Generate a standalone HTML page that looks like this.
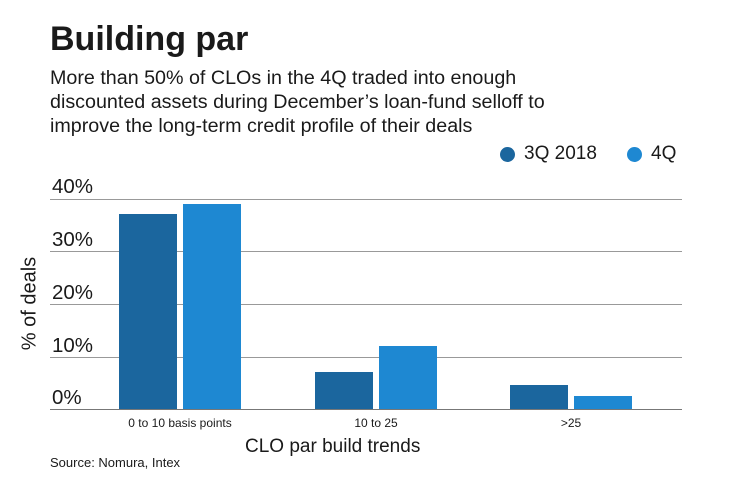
<!DOCTYPE html><html><head><style>
body{margin:0;width:740px;height:482px;background:#fff;font-family:"Liberation Sans",sans-serif;color:#1a1a1a;position:relative;overflow:hidden}
div{position:absolute;white-space:nowrap}
.g{position:absolute;left:50px;width:632px;height:1px;background:#999}
.b{position:absolute;width:58px}
.d{background:#1b669e}.l{background:#1e88d2}
.yl{left:52px;font-size:20.5px}
.xl{font-size:12px;top:416px;text-align:center;width:200px}
</style></head><body>
<div style="left:50px;top:20px;font-size:34px;font-weight:bold">Building par</div>
<div style="left:50px;top:66px;font-size:19.7px;line-height:24px">More than 50% of CLOs in the 4Q traded into enough<br>discounted assets during December’s loan-fund selloff to<br>improve the long-term credit profile of their deals</div>
<div style="left:500px;top:147px;width:15px;height:15px;border-radius:50%;background:#1b669e"></div>
<div style="left:524px;top:143px;font-size:19px">3Q 2018</div>
<div style="left:627px;top:147px;width:15px;height:15px;border-radius:50%;background:#1e88d2"></div>
<div style="left:651px;top:143px;font-size:19px">4Q</div>
<div class="g" style="top:199px"></div><div class="g" style="top:251px"></div><div class="g" style="top:304px"></div><div class="g" style="top:357px"></div><div class="g" style="top:409px;background:#777"></div>
<div class="yl" style="top:175px">40%</div><div class="yl" style="top:228px">30%</div><div class="yl" style="top:281px">20%</div><div class="yl" style="top:334px">10%</div><div class="yl" style="top:386px">0%</div>
<div style="left:-20px;top:292px;font-size:20px;transform:rotate(-90deg);width:100px;text-align:center">% of deals</div>
<div class="b d" style="left:119px;top:214px;height:195px"></div>
<div class="b l" style="left:183px;top:204px;height:205px"></div>
<div class="b d" style="left:315px;top:372px;height:37px"></div>
<div class="b l" style="left:379px;top:346px;height:63px"></div>
<div class="b d" style="left:510px;top:385px;height:24px"></div>
<div class="b l" style="left:574px;top:396px;height:13px"></div>
<div class="xl" style="left:80px">0 to 10 basis points</div>
<div class="xl" style="left:276px">10 to 25</div>
<div class="xl" style="left:471px">&gt;25</div>
<div style="left:245px;top:436px;font-size:19px">CLO par build trends</div>
<div style="left:50px;top:455px;font-size:13px">Source: Nomura, Intex</div>
</body></html>
